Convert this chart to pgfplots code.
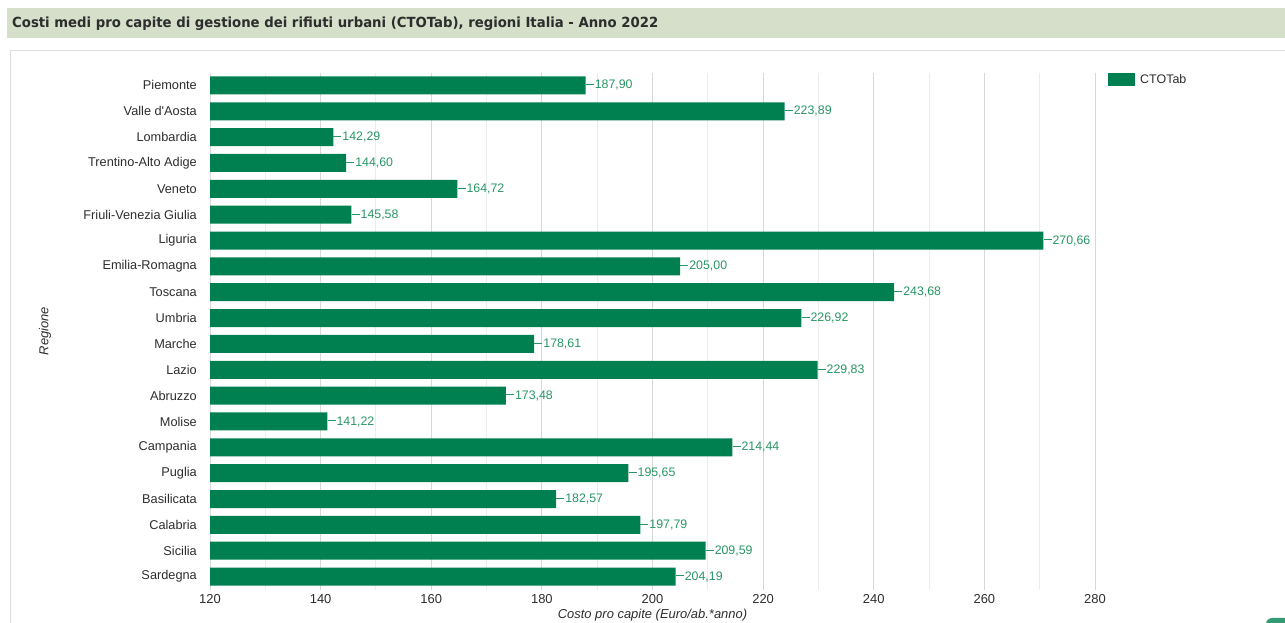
\documentclass[border=0pt]{standalone}
\usepackage{pgfplots}
\pgfplotsset{compat=1.18}
\usepackage{fontspec}
\setmainfont{Liberation Sans}
\newfontfamily\titlefont{DejaVu Sans}[FakeStretch=0.95]
\definecolor{barg}{RGB}{0,128,80}
\definecolor{valg}{RGB}{40,150,100}
\definecolor{titlebg}{RGB}{213,223,201}
\definecolor{panelgray}{RGB}{222,222,222}
\definecolor{majg}{RGB}{216,216,216}
\definecolor{ming}{RGB}{236,236,236}
\definecolor{txt}{RGB}{45,45,45}
\begin{document}
\begin{tikzpicture}
\useasboundingbox (0,0) rectangle (1285bp,623bp);
\fill[titlebg] (7bp,615bp) rectangle (1285bp,585bp);
\node[anchor=west, inner sep=0pt, text=txt] at (12bp,599.5bp) {\titlefont\bfseries\fontsize{14}{16}\selectfont Costi medi pro capite di gestione dei rifiuti urbani (CTOTab), regioni Italia - Anno 2022};
\draw[panelgray, line width=1bp] (10.5bp,0bp) -- (10.5bp,572bp) -- (1285bp,572bp);
\begin{scope}
\clip (0,0) rectangle (1285bp,623bp);
\fill[barg!80!white, rounded corners=6bp] (1266bp,-10bp) rectangle (1300bp,5bp);
\end{scope}
\begin{axis}[
  at={(210bp,33.5bp)}, anchor=south west,
  scale only axis, width=885bp, height=517bp,
  xmin=120, xmax=280, ymin=-0.5, ymax=19.5,
  y dir=reverse,
  xtick={120,140,...,280},
  minor x tick num=1,
  xmajorgrids, xminorgrids,
  major grid style={draw=majg, line width=0.9bp},
  minor grid style={draw=ming, line width=0.9bp},
  ytick={0,...,19},
  yticklabels={Piemonte,Valle d\textquotesingle Aosta,Lombardia,Trentino-Alto Adige,Veneto,Friuli-Venezia Giulia,Liguria,Emilia-Romagna,Toscana,Umbria,Marche,Lazio,Abruzzo,Molise,Campania,Puglia,Basilicata,Calabria,Sicilia,Sardegna},
  axis line style={draw=none},
  major tick length=0pt, minor tick length=0pt,
  tick style={draw=none},
  /pgf/number format/assume math mode=true,
  xticklabel style={font=\fontsize{13}{15}\selectfont, text=txt, inner sep=0pt, anchor=north, yshift=-4.5bp},
  yticklabel style={font=\fontsize{12.8}{15}\selectfont, text=txt, inner sep=0pt, anchor=east, xshift=-13bp},
  xlabel={Costo pro capite (Euro/ab.*anno)},
  xlabel style={font=\itshape\fontsize{13}{15}\selectfont, text=txt, at={(rel axis cs:0.5,0)}, anchor=center, yshift=-25.5bp, inner sep=0pt},
  ylabel={Regione},
  ylabel style={font=\itshape\fontsize{13}{15}\selectfont, text=txt, at={(rel axis cs:0,0.5)}, anchor=center, yshift=165bp, inner sep=0pt},
  legend entries={CTOTab},
  legend style={draw=none, fill=none, at={(rel axis cs:1,1)}, anchor=north west, xshift=13bp, inner sep=0pt, font=\fontsize{12.5}{14}\selectfont, text=txt, legend cell align=left, /tikz/every odd column/.append style={column sep=3bp}},
  legend image code/.code={\fill[barg] (0bp,-6.5bp) rectangle (27bp,6.5bp);},
]
\addplot[xbar, bar width=18bp, fill=barg, draw=none,
  point meta=x,
  nodes near coords={\rule[0.32em]{8bp}{0.7bp}\hspace{1bp}\pgfmathprintnumber[fixed,fixed zerofill,precision=2,use comma]{\pgfplotspointmeta}},
  every node near coord/.append style={anchor=west, inner sep=0pt, font=\fontsize{12.4}{14}\selectfont, text=valg},
] coordinates {
(187.90,0) (223.89,1) (142.29,2) (144.60,3) (164.72,4) (145.58,5) (270.66,6) (205.00,7) (243.68,8) (226.92,9)
(178.61,10) (229.83,11) (173.48,12) (141.22,13) (214.44,14) (195.65,15) (182.57,16) (197.79,17) (209.59,18) (204.19,19)
};
\end{axis}
\end{tikzpicture}
\end{document}
